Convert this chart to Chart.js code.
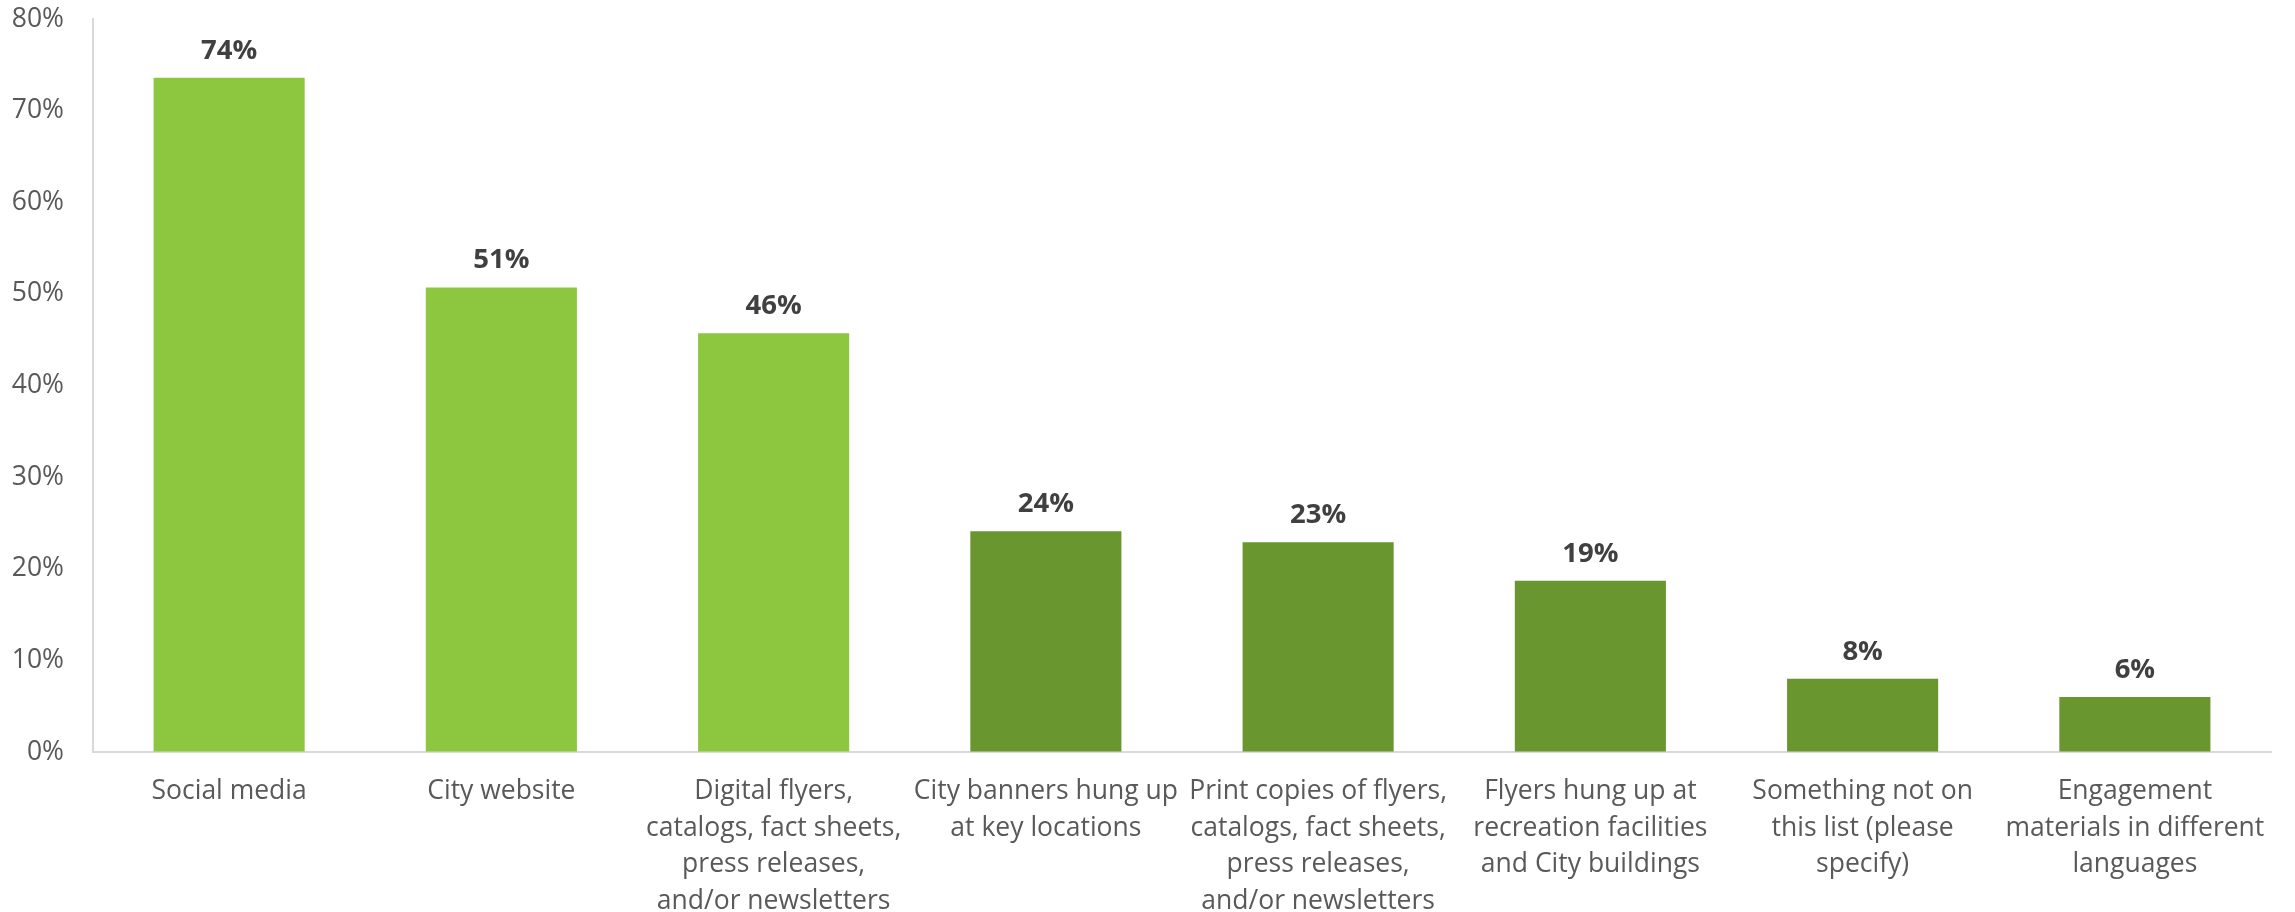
<!DOCTYPE html>
<html>
<head>
<meta charset="utf-8">
<script src="https://cdn.jsdelivr.net/npm/chart.js@4/dist/chart.umd.min.js"></script>
<style>
  html, body { margin: 0; padding: 0; background: #fff; }
  #wrap { width: 2295px; height: 912px; position: relative; }
</style>
</head>
<body>
<div id="wrap"><canvas id="channelsChart"></canvas></div>
<script>
// Kênh thông tin (nhãn trục X, đã ngắt dòng)
const categories = [
    'Social media',
    'City website',
    ['Digital flyers,', 'catalogs, fact sheets,', 'press releases,', 'and/or newsletters'],
    ['City banners hung up', 'at key locations'],
    ['Print copies of flyers,', 'catalogs, fact sheets,', 'press releases,', 'and/or newsletters'],
    ['Flyers hung up at', 'recreation facilities', 'and City buildings'],
    ['Something not on', 'this list (please', 'specify)'],
    ['Engagement', 'materials in different', 'languages']
];

// Tỷ lệ phần trăm người trả lời
const percentValues = [73.6, 50.7, 45.7, 24.1, 22.9, 18.7, 8.0, 6.0];

// Các mốc trục Y
const yTicks = [0, 10, 20, 30, 40, 50, 60, 70, 80];

// Số kênh đầu tiên được tô màu sáng
const onlineCount = 3;

const FONT = "'Open Sans', 'Noto Sans', sans-serif";
const LIGHT_GREEN = '#8dc63f';
const DARK_GREEN = '#6a962f';

// Plugin vẽ nhãn giá trị trên đầu mỗi cột
const valueLabels = {
    id: 'valueLabels',
    afterDatasetsDraw(chart) {
        const { ctx } = chart;
        const meta = chart.getDatasetMeta(0);
        ctx.save();
        ctx.font = `bold 27.5px ${FONT}`;
        ctx.fillStyle = '#404040';
        ctx.textAlign = 'center';
        ctx.textBaseline = 'alphabetic';
        meta.data.forEach((bar, i) => {
            const v = chart.data.datasets[0].data[i];
            ctx.fillText(Math.round(v) + '%', bar.x, bar.y - 19);
        });
        ctx.restore();
    }
};

function drawChart() {
    const ctx = document.getElementById('channelsChart');
    new Chart(ctx, {
        type: 'bar',
        data: {
            labels: categories,
            datasets: [{
                data: percentValues,
                backgroundColor: c => c.dataIndex < onlineCount ? LIGHT_GREEN : DARK_GREEN,
                borderWidth: 0,
                barPercentage: 0.555,
                categoryPercentage: 1
            }]
        },
        options: {
            responsive: true,
            maintainAspectRatio: false,
            animation: false,
            layout: { padding: { top: 19, right: 24, left: 0, bottom: 0 } },
            scales: {
                y: {
                    min: yTicks[0],
                    max: yTicks[yTicks.length - 1],
                    afterBuildTicks: s => { s.ticks = yTicks.map(v => ({ value: v })); },
                    afterFit: s => {
                        s.width = 93;
                        s.paddingTop = 0;
                        s.paddingBottom = 0;
                    },
                    grid: { display: true, drawOnChartArea: false, drawTicks: false },
                    border: { display: true, color: '#d9d9d9', width: 2 },
                    ticks: {
                        padding: 29,
                        color: '#595959',
                        font: { family: FONT, size: 26.5 },
                        callback: v => v + '%'
                    }
                },
                x: {
                    afterFit: s => { s.height = 160; },
                    grid: { display: true, drawOnChartArea: false, drawTicks: false },
                    border: { display: true, color: '#d9d9d9', width: 2 },
                    ticks: {
                        padding: 21,
                        maxRotation: 0,
                        autoSkip: false,
                        color: '#595959',
                        font: { family: FONT, size: 26.5, lineHeight: 1.385 }
                    }
                }
            },
            plugins: {
                legend: { display: false },
                tooltip: { enabled: false }
            }
        },
        plugins: [valueLabels]
    });
}

Promise.all([
    document.fonts.load(`26.5px ${FONT}`),
    document.fonts.load(`bold 27.5px ${FONT}`)
]).then(drawChart, drawChart);
</script>
</body>
</html>
